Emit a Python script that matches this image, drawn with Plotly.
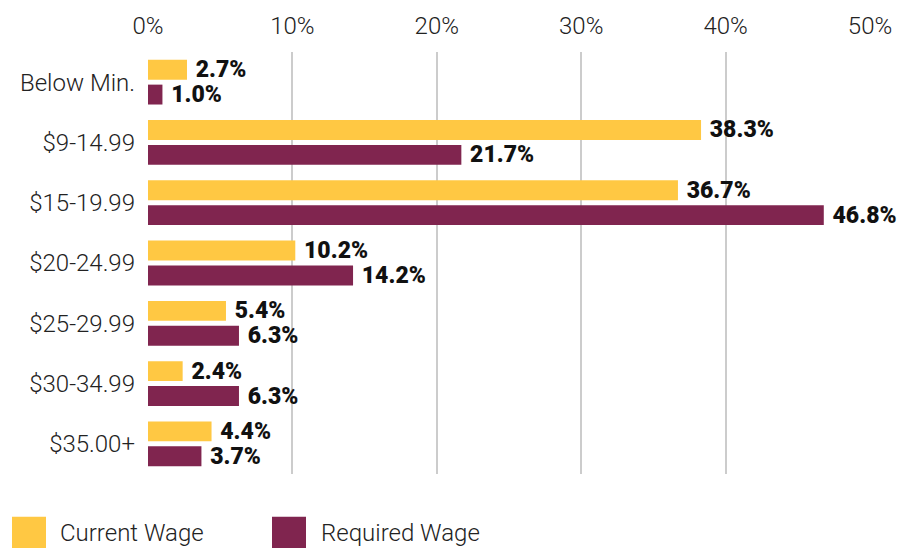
import plotly.graph_objects as go

categories = ["Below Min.", "$9-14.99", "$15-19.99", "$20-24.99", "$25-29.99", "$30-34.99", "$35.00+"]
current_wage = [2.7, 38.3, 36.7, 10.2, 5.4, 2.4, 4.4]
required_wage = [1.0, 21.7, 46.8, 14.2, 6.3, 6.3, 3.7]
series_names = ["Current Wage", "Required Wage"]
tick_vals = [0, 10, 20, 30, 40, 50]
tick_text = ["0%", "10%", "20%", "30%", "40%", "50%"]

YELLOW = "#FFC843"
MAROON = "#80254F"
FONT = "Roboto"

W, H = 916, 548
ML, MR, MT, MB = 148, 46, 50, 74

fig = go.Figure()
for name, vals, col in [(series_names[0], current_wage, YELLOW), (series_names[1], required_wage, MAROON)]:
    fig.add_trace(go.Bar(
        y=categories, x=vals, name=name, orientation="h",
        marker=dict(color=col, line=dict(width=0)),
        text=[f"{v:.1f}%" for v in vals],
        texttemplate=" %{text}",
        textposition="outside",
        constraintext="none",
        cliponaxis=False,
        textfont=dict(family=FONT, size=23, color="#111111", weight=900),
        showlegend=False,
        hoverinfo="skip",
    ))

pw = W - ML - MR
ph = H - MT - MB

def px_x(p):
    return (p - ML) / pw

def px_y(p):
    return (H - MB - p) / ph

shapes = []
annotations = []
legend_items = [(series_names[0], YELLOW, 12, 58), (series_names[1], MAROON, 272, 319)]
for name, col, sx, tx in legend_items:
    shapes.append(dict(type="rect", xref="paper", yref="paper",
                       x0=px_x(sx), x1=px_x(sx + 34), y0=px_y(551), y1=px_y(517),
                       fillcolor=col, line=dict(width=0), layer="above"))
    annotations.append(dict(xref="paper", yref="paper", x=px_x(tx), y=px_y(533),
                            xanchor="left", yanchor="middle", text=name, showarrow=False,
                            font=dict(family=FONT, size=24, color="#222222", weight=300)))

fig.update_layout(
    width=W, height=H,
    margin=dict(l=ML, r=MR, t=MT, b=MB),
    paper_bgcolor="white", plot_bgcolor="white",
    barmode="group", bargap=0.175, bargroupgap=0.2,
    font=dict(family=FONT, size=24, color="#222222"),
    shapes=shapes, annotations=annotations,
    xaxis=dict(side="top", range=[0, 50], tickvals=tick_vals, ticktext=tick_text,
               showgrid=True, gridcolor="#CCCCCC", gridwidth=1.5, zeroline=False,
               showline=False, ticks="", ticklabelstandoff=12,
               tickfont=dict(family=FONT, size=24, color="#222222", weight=300)),
    yaxis=dict(autorange="reversed", showgrid=False, zeroline=False, showline=False,
               ticks="", ticklabelstandoff=12,
               tickfont=dict(family=FONT, size=24, color="#222222", weight=300)),
)

fig.write_html("out.html", config={"displayModeBar": False},
               post_script="document.body.style.margin='0';document.body.style.overflow='hidden';")
